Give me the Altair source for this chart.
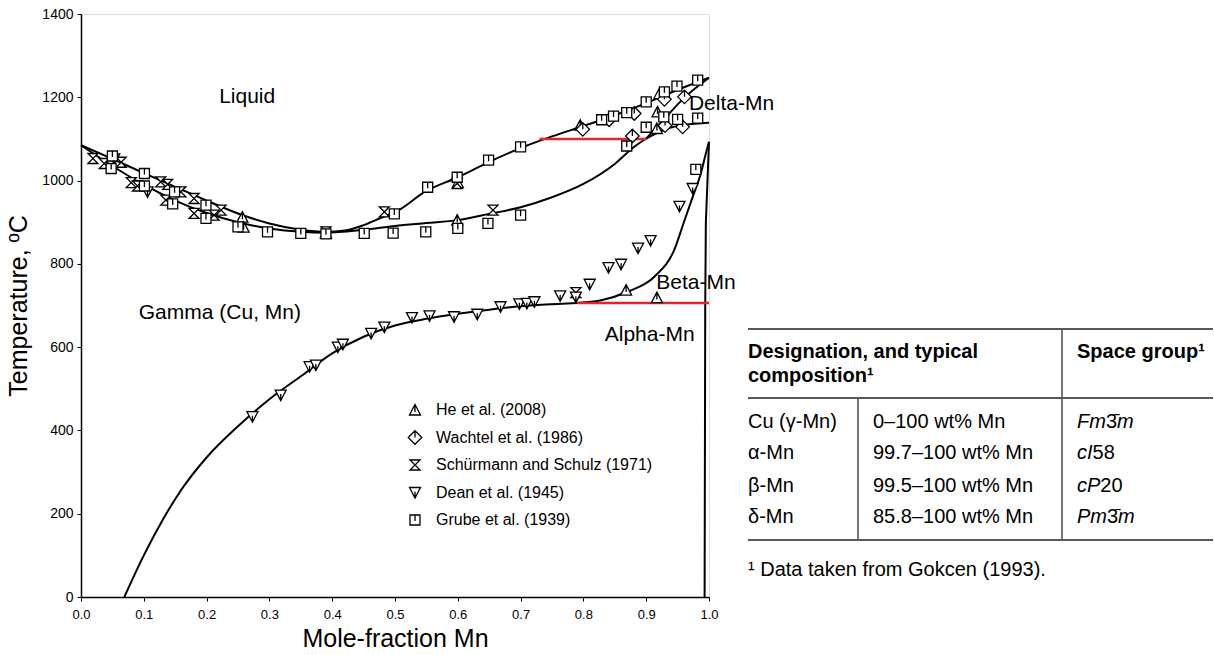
import altair as alt
import pandas as pd

# ---------------- data ----------------
# phase boundaries (mole fraction Mn, temperature C)
liquidus_x = [0.0, 0.05, 0.1, 0.15, 0.2, 0.25, 0.3, 0.35, 0.39, 0.42, 0.45, 0.48, 0.5, 0.55, 0.6, 0.65, 0.7, 0.75, 0.8, 0.85, 0.9, 0.95, 1.0]
liquidus_t = [1085, 1052, 1018, 985, 952, 921, 897, 882, 877, 880, 893, 912, 924, 975, 1008, 1045, 1078, 1106, 1131, 1157, 1186, 1218, 1247]

solidus_x = [0.0, 0.05, 0.1, 0.15, 0.2, 0.25, 0.3, 0.35, 0.39, 0.45, 0.5, 0.55, 0.6, 0.65, 0.7, 0.75, 0.8, 0.85, 0.88, 0.9]
solidus_t = [1085, 1035, 990, 952, 922, 900, 885, 877, 875, 882, 891, 898, 905, 920, 936, 960, 992, 1040, 1080, 1101]

delta_sol_x = [0.9, 0.93, 0.96, 1.0]
delta_sol_t = [1101, 1150, 1198, 1247]

delta_low_x = [0.9, 0.934, 0.961, 1.0]
delta_low_t = [1101, 1125, 1134, 1139]

beta_x = [0.79, 0.83, 0.87, 0.913, 0.945, 0.96, 0.975, 0.987, 0.995, 1.0]
beta_t = [706, 713, 733, 769, 835, 900, 965, 1017, 1065, 1093]

gamma_solvus_x = [0.069, 0.1, 0.13, 0.16, 0.2, 0.25, 0.3, 0.35, 0.4, 0.45, 0.5, 0.55, 0.6, 0.65, 0.7, 0.75, 0.79]
gamma_solvus_t = [0, 100, 185, 258, 335, 410, 475, 530, 585, 625, 652, 668, 680, 690, 698, 703, 706]

alpha_x = [1.0, 0.995, 0.994, 0.993]
alpha_t = [1093, 900, 700, 0]

# invariant (red) lines
red_x1 = [0.73, 0.79]
red_x2 = [0.90, 1.0]
red_t = [1100, 706]

# experimental points
he_x = [0.257, 0.259, 0.39, 0.599, 0.6, 0.795, 0.868, 0.917, 0.918, 0.921, 0.917]
he_t = [912, 888, 873, 905, 995, 1133, 737, 719, 1165, 1209, 1125]

wachtel_x = [0.799, 0.841, 0.881, 0.878, 0.929, 0.961, 0.958, 0.93]
wachtel_t = [1123, 1146, 1161, 1107, 1195, 1201, 1129, 1132]

schurmann_x = [0.019, 0.037, 0.064, 0.08, 0.09, 0.127, 0.138, 0.159, 0.135, 0.18, 0.18, 0.212, 0.223, 0.483, 0.599, 0.656, 0.788, 0.39]
schurmann_t = [1053, 1041, 1044, 995, 987, 997, 991, 973, 953, 957, 921, 917, 929, 925, 993, 929, 731, 877]

dean_x = [0.053, 0.106, 0.273, 0.318, 0.364, 0.374, 0.409, 0.417, 0.462, 0.483, 0.527, 0.555, 0.594, 0.631, 0.668,
          0.698, 0.71, 0.722, 0.763, 0.788, 0.81, 0.84, 0.86, 0.887, 0.907, 0.953, 0.974]
dean_t = [1052, 973, 433, 485, 553, 557, 600, 607, 633, 648, 671, 675, 673, 679, 697,
          704, 705, 709, 723, 720, 751, 791, 799, 838, 856, 938, 981]

grube_x = [0.05, 0.048, 0.101, 0.101, 0.149, 0.146, 0.199, 0.199, 0.25, 0.297, 0.35, 0.39, 0.451, 0.497, 0.499,
           0.549, 0.552, 0.6, 0.599, 0.648, 0.649, 0.70, 0.70, 0.829, 0.848, 0.869, 0.869, 0.9, 0.9, 0.928,
           0.929, 0.949, 0.95, 0.982, 0.982, 0.979]
grube_t = [1059, 1029, 1017, 987, 973, 944, 941, 909, 889, 877, 873, 872, 873, 874, 920,
           877, 984, 885, 1008, 897, 1049, 917, 1081, 1146, 1155, 1163, 1083, 1189, 1128, 1153,
           1213, 1227, 1147, 1241, 1150, 1027]

sources = ["He et al. (2008)", "Wachtel et al. (1986)", "Schürmann and Schulz (1971)",
           "Dean et al. (1945)", "Grube et al. (1939)"]

region_labels = ["Liquid", "Gamma (Cu, Mn)", "Delta-Mn", "Beta-Mn", "Alpha-Mn"]
region_x = [0.22, 0.092, 0.968, 0.916, 0.834]
region_t = [1201, 682, 1184, 754, 629]

# table content
tbl_header1 = ["Designation, and typical", "composition¹"]
tbl_header2 = ["Space group¹"]
designations = ["Cu (γ-Mn)", "α-Mn", "β-Mn", "δ-Mn"]
compositions = ["0–100 wt% Mn", "99.7–100 wt% Mn", "99.5–100 wt% Mn", "85.8–100 wt% Mn"]
sg_italic = ["Fm", "cI", "cP", "Pm"]
sg_normal = ["3\u0304", "58", "20", "3\u0304"]
sg_tail = ["m", "", "", "m"]
footnote = "¹ Data taken from Gokcen (1993)."

# ---------------- build tables ----------------
FONT = "Liberation Sans"

def curve(name, xs, ts):
    return pd.DataFrame({"curve": name, "x": xs, "T": ts, "i": range(len(xs))})

smooth = pd.concat([
    curve("liquidus", liquidus_x, liquidus_t),
    curve("solidus", solidus_x, solidus_t),
    curve("delta_sol", delta_sol_x, delta_sol_t),
    curve("delta_low", delta_low_x, delta_low_t),
    curve("beta", beta_x, beta_t),
    curve("gamma_solvus", gamma_solvus_x, gamma_solvus_t),
])
alpha_df = curve("alpha", alpha_x, alpha_t)
red_df = pd.DataFrame({"x": red_x1, "x2": red_x2, "T": red_t})

pts = pd.concat([
    pd.DataFrame({"src": sources[0], "x": he_x, "T": he_t}),
    pd.DataFrame({"src": sources[1], "x": wachtel_x, "T": wachtel_t}),
    pd.DataFrame({"src": sources[2], "x": schurmann_x, "T": schurmann_t}),
    pd.DataFrame({"src": sources[3], "x": dean_x, "T": dean_t}),
    pd.DataFrame({"src": sources[4], "x": grube_x, "T": grube_t}),
])

shape_paths = [
    "M0,-1.1L1.1,1L-1.1,1Z M0,-1.1V0.4",
    "M0,-1.35L1.35,0L0,1.35L-1.35,0Z M0,-1.35V0",
    "M-1,-1L1,-1L-1,1L1,1Z",
    "M-1.1,-1L1.1,-1L0,1.1Z M0,-0.2V1.1",
    "M-1,-1H1V1H-1Z M0,-1V0.2",
]
shape_scale = alt.Scale(domain=sources, range=shape_paths)

regions = pd.DataFrame({"label": region_labels, "x": region_x, "T": region_t})

X = alt.X("x:Q", scale=alt.Scale(domain=[0, 1], nice=False),
          axis=alt.Axis(title="Mole-fraction Mn", values=[i / 10 for i in range(11)], format=".1f",
                        labelFontSize=13, titleFontSize=25, titleFontWeight="normal",
                        titlePadding=5, labelPadding=7, tickSize=4, grid=False, labelFlush=False,
                        domainColor="black", tickColor="black", domainWidth=1.5,
                        labelColor="black", titleColor="black", labelFont=FONT, titleFont=FONT))
Y = alt.Y("T:Q", scale=alt.Scale(domain=[0, 1400], nice=False),
          axis=alt.Axis(title="Temperature, ºC", values=list(range(0, 1401, 200)), format="d",
                        labelFontSize=14, titleFontSize=25, titleFontWeight="normal",
                        titlePadding=10, labelPadding=4, tickSize=4, grid=False, labelFlush=False,
                        domainColor="black", tickColor="black", domainWidth=1.5,
                        labelColor="black", titleColor="black", labelFont=FONT, titleFont=FONT))

lines = alt.Chart(smooth).mark_line(color="black", strokeWidth=2, interpolate="monotone").encode(
    x=X, y=Y, detail="curve:N", order="i:Q")
alpha_line = alt.Chart(alpha_df).mark_line(color="black", strokeWidth=2).encode(
    x="x:Q", y="T:Q", order="i:Q")
red = alt.Chart(red_df).mark_rule(color="#e3262b", strokeWidth=2.5).encode(
    x="x:Q", x2="x2:Q", y="T:Q")

points = alt.Chart(pts).mark_point(filled=False, fill="white", stroke="black", strokeWidth=1.3,
                                    size=100, opacity=1).encode(
    x="x:Q", y="T:Q",
    shape=alt.Shape("src:N", scale=shape_scale, legend=None))

region_text = alt.Chart(regions).mark_text(align="left", baseline="middle", fontSize=21,
                                           font=FONT, color="black").encode(
    x="x:Q", y="T:Q", text="label:N")

# ---------------- in-plot legend (pixel layout relative to plot origin) ----------------
leg = pd.DataFrame({"src": sources, "py": [396 + 27.5 * i for i in range(len(sources))]})
leg_sym = alt.Chart(leg).mark_point(filled=False, fill="white", stroke="black", strokeWidth=1.3,
                                    size=100, opacity=1).encode(
    x=alt.value(334), y=alt.Y("py:Q", scale=None),
    shape=alt.Shape("src:N", scale=shape_scale, legend=None))
leg_txt = alt.Chart(leg).mark_text(align="left", baseline="middle", fontSize=16, font=FONT,
                                   color="black").encode(
    x=alt.value(355), y=alt.Y("py:Q", scale=None), text="src:N")

# ---------------- table (layout in pixels relative to plot origin) ----------------
L, R = 667, 1132
rules = pd.DataFrame({
    "px": [L, L, L, 777, 981],
    "px2": [R, R, R, 777, 981],
    "py": [315, 384, 526, 384, 315],
    "py2": [315, 384, 526, 526, 526],
    "c": ["h", "h", "h", "v", "v"],
})
table_rules = alt.Chart(rules).mark_rule(strokeWidth=1.6).encode(
    x=alt.X("px:Q", scale=None), x2="px2:Q",
    y=alt.Y("py:Q", scale=None), y2="py2:Q",
    color=alt.Color("c:N", scale=alt.Scale(domain=["h", "v"], range=["#222222", "#555555"]), legend=None))

row_y = [407.7, 439.3, 471.7, 503.3]
bold_df = pd.DataFrame({"t": tbl_header1 + tbl_header2, "px": [L, L, 996], "py": [338, 362, 338]})
norm_df = pd.DataFrame({
    "t": designations + compositions + sg_normal + [footnote],
    "px": [L] * 4 + [792] * 4 + [996 + 29, 996 + 15.6, 996 + 23.3, 996 + 30] + [L],
    "py": row_y + row_y + row_y + [556],
})
ital_df = pd.DataFrame({
    "t": sg_italic + sg_tail,
    "px": [996] * 4 + [996 + 40, 0, 0, 996 + 41],
    "py": row_y + row_y,
})
ital_df = ital_df[ital_df["t"] != ""]

def table_text(df, **kw):
    return alt.Chart(df).mark_text(align="left", baseline="middle", fontSize=20, font=FONT,
                                   color="black", **kw).encode(
        x=alt.X("px:Q", scale=None), y=alt.Y("py:Q", scale=None), text="t:N")

bold_t = table_text(bold_df, fontWeight="bold")
norm_t = table_text(norm_df)
ital_t = table_text(ital_df, fontStyle="italic")

chart = alt.layer(lines, alpha_line, red, points, region_text, leg_sym, leg_txt,
                  table_rules, bold_t, norm_t, ital_t).properties(
    width=628, height=583,
    padding={"left": 6, "top": 7, "right": 0, "bottom": 2},
).configure_view(stroke="#111111", strokeWidth=1).configure(background="white")

chart.save("out.html", embed_options={"renderer": "svg", "actions": False})
